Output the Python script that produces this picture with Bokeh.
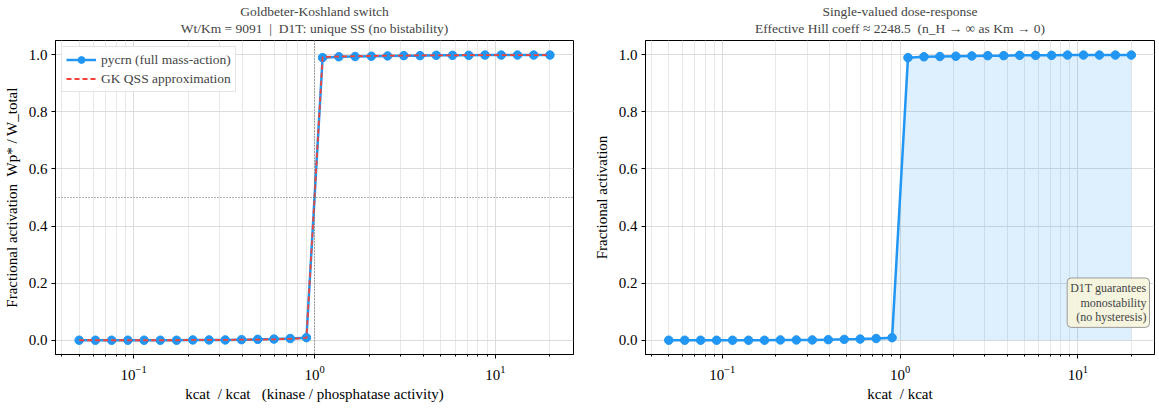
from bokeh.plotting import figure
from bokeh.layouts import row
from bokeh.models import FixedTicker, Span, Label, Title, NumeralTickFormatter
from bokeh.embed import file_html
from bokeh.resources import INLINE

# kinase / phosphatase activity ratio (30 log-spaced points)
ratio = [0.05, 0.06148, 0.07557, 0.09293, 0.11427, 0.14050, 0.17275, 0.21240,
         0.26116, 0.32110, 0.39481, 0.48544, 0.59687, 0.73388, 0.90235,
         1.10823, 1.36262, 1.67540, 2.06000, 2.53286, 3.11427, 3.82914,
         4.70810, 5.78884, 7.11765, 8.75149, 10.7604, 13.2303, 16.2673, 20.0]

# pycrn full mass-action steady state
pycrn_frac = [0.000, 0.000, 0.000, 0.000, 0.000, 0.000, 0.000, 0.001, 0.001,
              0.001, 0.002, 0.003, 0.004, 0.006, 0.009,
              0.990, 0.993, 0.994, 0.995, 0.996, 0.997, 0.997, 0.998, 0.998,
              0.998, 0.999, 0.999, 0.999, 0.999, 0.999]

# Goldbeter-Koshland QSS approximation
gk_frac = [0.000, 0.000, 0.000, 0.000, 0.000, 0.000, 0.000, 0.001, 0.001,
           0.001, 0.002, 0.002, 0.003, 0.005, 0.008,
           0.992, 0.994, 0.995, 0.996, 0.997, 0.997, 0.998, 0.998, 0.998,
           0.999, 0.999, 0.999, 0.999, 0.999, 0.999]

y_ticks = [0.0, 0.2, 0.4, 0.6, 0.8, 1.0]
x_major = [0.1, 1, 10]
x_minor = [0.04, 0.05, 0.06, 0.07, 0.08, 0.09, 0.2, 0.3, 0.4, 0.5, 0.6, 0.7,
           0.8, 0.9, 2, 3, 4, 5, 6, 7, 8, 9, 20]

FONT = "Liberation Serif"
BLUE = "#2196F3"
RED = "#F44336"
NB = "\u00a0"


def make_fig(fw, bl, br, title1, title2, xlabel, ylabel):
    p = figure(frame_width=fw, frame_height=314, x_axis_type="log",
               x_range=(0.037, 27), y_range=(-0.05, 1.05),
               output_backend="svg", toolbar_location=None,
               min_border_left=bl, min_border_right=br,
               min_border_top=35, min_border_bottom=44)
    p.add_layout(Title(text=title2, align="center", text_font=FONT,
                       text_font_size="13.5px", text_font_style="normal",
                       standoff=9), "above")
    p.add_layout(Title(text=title1, align="center", text_font=FONT,
                       text_font_size="13.5px", text_font_style="normal",
                       standoff=-8), "above")
    p.add_layout(Title(text=" ", align="center", text_font=FONT,
                       text_font_size="3px", standoff=0), "above")
    p.outline_line_color = "black"
    p.outline_line_width = 1
    p.outline_line_alpha = 1
    p.xaxis.ticker = FixedTicker(ticks=x_major, minor_ticks=x_minor)
    p.yaxis.ticker = FixedTicker(ticks=y_ticks)
    p.yaxis.formatter = NumeralTickFormatter(format="0.0")
    p.xgrid.ticker = FixedTicker(ticks=x_major, minor_ticks=x_minor)
    p.xgrid.grid_line_color = "#dcdcdc"
    p.xgrid.minor_grid_line_color = "#e8e8e8"
    p.ygrid.grid_line_color = "#dcdcdc"
    for ax in (p.xaxis[0], p.yaxis[0]):
        ax.axis_line_color = "black"
        ax.major_tick_line_color = "black"
        ax.minor_tick_line_color = "black"
        ax.major_tick_in = 0
        ax.major_tick_out = 4
        ax.minor_tick_in = 0
        ax.minor_tick_out = 2
        ax.major_label_text_font = FONT
        ax.major_label_text_font_size = "15px"
        ax.major_label_text_color = "black"
        ax.axis_label_text_font = FONT
        ax.axis_label_text_font_size = "15px"
        ax.axis_label_text_font_style = "normal"
        ax.axis_label_text_color = "black"
    p.yaxis.minor_tick_out = 0
    p.xaxis.axis_label = xlabel
    p.yaxis.axis_label = ylabel
    p.xaxis.major_label_standoff = 7
    p.xaxis.axis_label_standoff = 3
    p.yaxis.major_label_standoff = 4
    p.yaxis.axis_label_standoff = 6
    return p


p1 = make_fig(518, 50, 17, "Goldbeter-Koshland switch",
              f"Wt/Km = 9091 {NB}|{NB} D1T: unique SS (no bistability)",
              f"kcat {NB}/ kcat {NB}{NB}(kinase / phosphatase activity)",
              f"Fractional activation {NB}Wp* / W_total")
p1.add_layout(Span(location=1, dimension="height", line_color="#666666",
                   line_dash="1 2", line_width=1))
p1.add_layout(Span(location=0.5, dimension="width", line_color="#666666",
                   line_dash="1 2", line_width=1))
p1.line(ratio, pycrn_frac, line_color=BLUE, line_width=2.5,
        legend_label="pycrn (full mass-action)")
p1.scatter(ratio, pycrn_frac, size=8.5, fill_color=BLUE, line_color=BLUE,
           legend_label="pycrn (full mass-action)")
p1.line(ratio, gk_frac, line_color=RED, line_width=1.8, line_dash="5 3",
        legend_label="GK QSS approximation")
p1.legend.location = "top_left"
p1.legend.label_text_font = FONT
p1.legend.label_text_font_size = "13.5px"
p1.legend.border_line_color = "#cccccc"
p1.legend.background_fill_alpha = 0.9
p1.legend.glyph_width = 30
p1.legend.glyph_height = 17
p1.legend.label_height = 17
p1.legend.spacing = 2
p1.legend.padding = 4
p1.legend.margin = 6

p2 = make_fig(509, 48, 1, "Single-valued dose-response",
              f"Effective Hill coeff \u2248 2248.5 {NB}(n_H \u2192 \u221e as Km \u2192 0)",
              f"kcat {NB}/ kcat", "Fractional activation")
p2.varea(x=ratio, y1=[0] * len(ratio), y2=pycrn_frac, fill_color=BLUE,
         fill_alpha=0.15)
p2.line(ratio, pycrn_frac, line_color=BLUE, line_width=2.5)
p2.scatter(ratio, pycrn_frac, size=8.5, fill_color=BLUE, line_color=BLUE)
p2.add_layout(Label(x=25.3, y=0.045,
                    text="D1T guarantees\nmonostability\n(no hysteresis)",
                    text_align="right", text_baseline="bottom",
                    text_font=FONT, text_font_size="12px",
                    text_line_height=1.05,
                    background_fill_color="#f7f5dc", background_fill_alpha=0.9,
                    border_line_color="#999999", padding=3, border_radius=4))

layout = row(p1, p2)
open("out.html", "w").write(file_html(layout, INLINE))
